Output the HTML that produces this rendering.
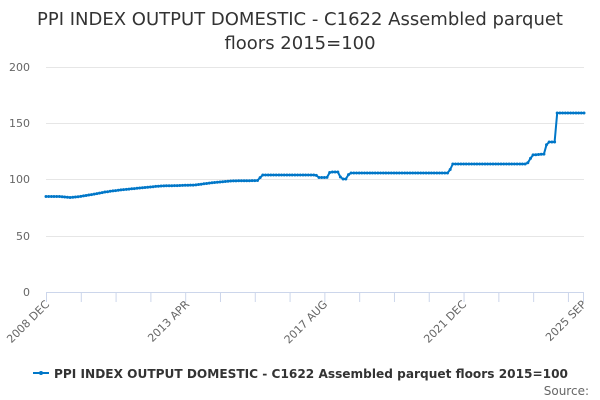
<!DOCTYPE html>
<html><head><meta charset="utf-8"><style>
body{margin:0;background:#fff;font-family:"Liberation Sans","DejaVu Sans",sans-serif;}
</style></head><body>
<svg id="s" width="600" height="400" xmlns="http://www.w3.org/2000/svg" style="display:block">
<text x="300" y="25" text-anchor="middle" font-size="18" fill="#333" font-family="DejaVu Sans, Liberation Sans, sans-serif">PPI INDEX OUTPUT DOMESTIC - C1622 Assembled parquet</text>
<text x="300" y="49" text-anchor="middle" font-size="18" fill="#333" font-family="DejaVu Sans, Liberation Sans, sans-serif">floors 2015=100</text>
<g stroke="#e6e6e6" stroke-width="1">
<line x1="46" x2="584" y1="67.5" y2="67.5"/><line x1="46" x2="584" y1="123.5" y2="123.5"/>
<line x1="46" x2="584" y1="179.5" y2="179.5"/><line x1="46" x2="584" y1="236.5" y2="236.5"/>
</g>
<line x1="46" x2="584" y1="292.5" y2="292.5" stroke="#ccd6eb"/>
<g id="ticks" stroke="#ccd6eb"></g>
<g font-size="11" fill="#666" text-anchor="end" font-family="DejaVu Sans, Liberation Sans, sans-serif">
<text x="30" y="71">200</text><text x="30" y="127">150</text><text x="30" y="183">100</text><text x="30" y="240">50</text><text x="30" y="296">0</text>
</g>
<g font-size="11" fill="#666" text-anchor="end" font-family="DejaVu Sans, Liberation Sans, sans-serif">
<text transform="translate(50,305) rotate(-45)">2008 DEC</text>
<text transform="translate(190,305) rotate(-45)">2013 APR</text>
<text transform="translate(328,305) rotate(-45)">2017 AUG</text>
<text transform="translate(467,305) rotate(-45)">2021 DEC</text>
<text transform="translate(587,305) rotate(-45)">2025 SEP</text>
</g>
<polyline id="ln" fill="none" stroke="#0077c8" stroke-width="2" stroke-linejoin="round"/>
<g id="mk" fill="#0077c8"></g>
<line x1="33" x2="49" y1="373" y2="373" stroke="#0077c8" stroke-width="2"/>
<circle cx="41" cy="373" r="2" fill="#0077c8"/>
<text x="54" y="378" font-size="12.5" font-weight="bold" fill="#333" textLength="514" lengthAdjust="spacingAndGlyphs" font-family="DejaVu Sans, Liberation Sans, sans-serif">PPI INDEX OUTPUT DOMESTIC - C1622 Assembled parquet floors 2015=100</text>
<text x="589" y="395" text-anchor="end" font-size="12" fill="#666" font-family="DejaVu Sans, Liberation Sans, sans-serif">Source:</text>
</svg>
<script>
var k=[[46,196.5],[60,196.5],[70,197.5],[80,196.5],[95,194],[105,192],[120,190],[140,188],[160,186],[180,185.5],[195,185],[210,183],[230,181],[258,180.5],[262,175],[316,175],[318,177.5],[327,177.5],[330,172],[339,172],[341,179],[347,179],[349,173],[449,173],[452,164],[527,164],[530,159.5],[532,155],[545,154],[547,142],[555,142],[557,113],[584,113]];
function f(x){for(var i=1;i<k.length;i++){if(x<=k[i][0]){var a=k[i-1],b=k[i];return a[1]+(b[1]-a[1])*(x-a[0])/(b[0]-a[0]);}}return k[k.length-1][1];}
var pts=[],mk="";
for(var i=0;i<202;i++){var x=46+i*538/201,y=f(x);pts.push(x.toFixed(1)+","+y.toFixed(1));mk+='<circle cx="'+x.toFixed(1)+'" cy="'+y.toFixed(1)+'" r="1.5"/>';}
document.getElementById("ln").setAttribute("points",pts.join(" "));
document.getElementById("mk").innerHTML=mk;
var t="";for(var j=0;j<=15;j++){var x=46.5+j*13*538/201;t+='<line x1="'+x+'" x2="'+x+'" y1="292" y2="302"/>';}
t+='<line x1="583.5" x2="583.5" y1="292" y2="302"/>';
document.getElementById("ticks").innerHTML=t;
</script>
</body></html>
